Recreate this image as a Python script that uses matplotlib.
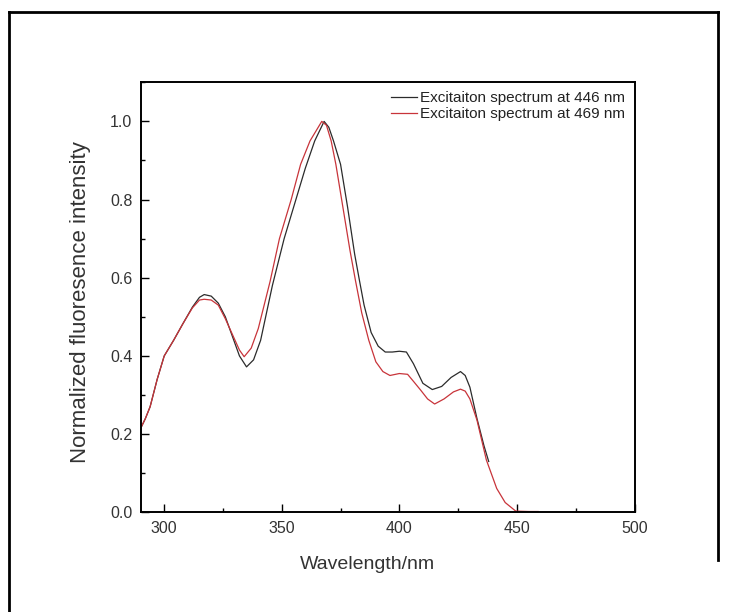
import matplotlib
matplotlib.use("Agg")
import matplotlib.pyplot as plt
from matplotlib.lines import Line2D
from matplotlib.ticker import MultipleLocator

plt.rcParams['font.family'] = ['Liberation Sans', 'DejaVu Sans']

# Excitation spectrum at 446 nm (black)
wl_446 = [290, 292, 294, 297, 300, 304, 308, 312, 315, 317, 320, 323, 326, 329, 332,
          335, 338, 341, 346, 351, 356, 360, 364, 368, 370, 372, 375, 378, 381, 383,
          385, 388, 391, 394, 397, 400, 403, 406, 410, 414, 418, 422, 426, 428, 430,
          433, 436, 438]
int_446 = [0.215, 0.24, 0.27, 0.34, 0.40, 0.44, 0.483, 0.525, 0.550, 0.557, 0.553, 0.535,
           0.50, 0.45, 0.40, 0.372, 0.39, 0.44, 0.58, 0.70, 0.80, 0.88, 0.95, 1.0, 0.985,
           0.95, 0.89, 0.78, 0.66, 0.594, 0.53, 0.46, 0.425, 0.41, 0.41, 0.412, 0.41,
           0.38, 0.33, 0.314, 0.322, 0.345, 0.36, 0.35, 0.32, 0.24, 0.17, 0.13]

# Excitation spectrum at 469 nm (red)
wl_469 = [290, 292, 294, 297, 300, 304, 308, 312, 315, 317, 320, 323, 326, 329, 332,
          334, 337, 340, 345, 349, 354, 358, 362, 367, 369, 371, 373, 376, 379, 381.3,
          384, 387, 390, 393, 396, 400, 403.5, 406, 409, 412, 415, 419, 423, 426, 428,
          430, 433, 437, 441.4, 445, 449.5, 455, 459]
int_469 = [0.215, 0.24, 0.27, 0.34, 0.40, 0.44, 0.483, 0.523, 0.543, 0.545, 0.543, 0.53,
           0.495, 0.455, 0.415, 0.398, 0.42, 0.47, 0.59, 0.70, 0.80, 0.89, 0.95, 1.0, 0.99,
           0.95, 0.89, 0.78, 0.67, 0.594, 0.51, 0.44, 0.385, 0.36, 0.35, 0.355, 0.353,
           0.335, 0.313, 0.29, 0.277, 0.29, 0.308, 0.315, 0.31, 0.29, 0.236, 0.134, 0.061,
           0.025, 0.003, 0.002, 0.002]

labels = ["Excitaiton spectrum at 446 nm", "Excitaiton spectrum at 469 nm"]
x_ticks = [300, 350, 400, 450, 500]
y_ticks = [0.0, 0.2, 0.4, 0.6, 0.8, 1.0]

W, H = 732, 612
fig = plt.figure(figsize=(W / 100, H / 100), dpi=100)
ax = fig.add_axes([140.7 / W, 1 - 512.3 / H, (634.5 - 140.7) / W, (512.3 - 82.3) / H])

ax.plot(wl_446, int_446, color='#2b2b2b', lw=0.9, label=labels[0])
ax.plot(wl_469, int_469, color='#c8343a', lw=0.9, label=labels[1])

ax.set_xlim(290, 500)
ax.set_ylim(0, 1.1)
ax.set_xticks(x_ticks)
ax.set_yticks(y_ticks)
ax.set_yticklabels([f"{v:.1f}" for v in y_ticks])
ax.xaxis.set_minor_locator(MultipleLocator(25))
ax.yaxis.set_minor_locator(MultipleLocator(0.1))
ax.tick_params(which='major', direction='in', length=6, width=1, labelsize=11.5,
               labelcolor='#333333', top=False, right=False, pad=6)
ax.tick_params(which='minor', direction='in', length=3, width=1, top=False, right=False)
for s in ax.spines.values():
    s.set_linewidth(1.4)
    s.set_color('black')

ax.set_xlabel("Wavelength/nm", fontsize=14, color='#333333')
ax.xaxis.set_label_coords((367.5 - 140.7) / (634.5 - 140.7), -0.102)
ax.set_ylabel("Normalized fluoresence intensity", fontsize=16, color='#333333')
ax.yaxis.set_label_coords(-(140.7 - 91) / (634.5 - 140.7), 0.49)

leg = ax.legend(loc='upper right', bbox_to_anchor=(1.0, 1.0), frameon=False,
                fontsize=11, handlelength=1.7, handletextpad=0.2, labelspacing=0.1,
                borderaxespad=0.2)
for t in leg.get_texts():
    t.set_color('#222222')

# figure frame
x0, x1 = 9 / W, 718 / W
y_top = 1 - 12 / H
fig.add_artist(Line2D([x0, x0], [0, y_top], transform=fig.transFigure, color='black', lw=2))
fig.add_artist(Line2D([x0, x1], [y_top, y_top], transform=fig.transFigure, color='black', lw=2))
fig.add_artist(Line2D([x1, x1], [1 - 560 / H, y_top], transform=fig.transFigure, color='black', lw=2))

fig.savefig("out.png", dpi=100)
